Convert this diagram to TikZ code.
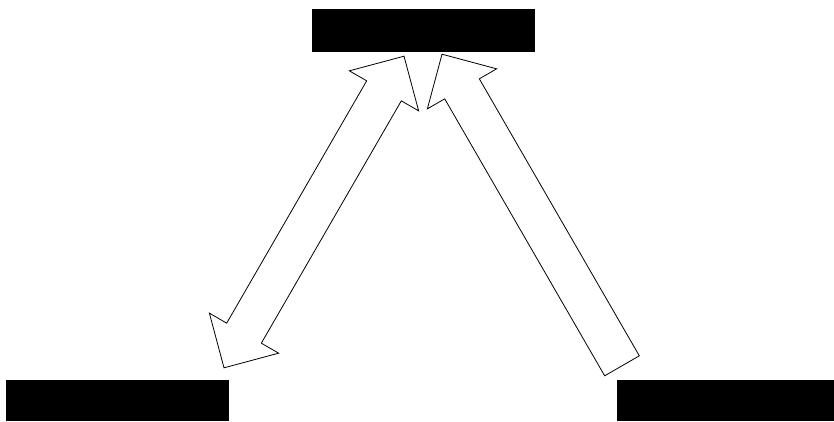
\documentclass[tikz,border=0pt]{standalone}
\usetikzlibrary{positioning,calc}

\tikzset{
  boite/.style={fill=black, draw=none, inner sep=0pt},
  fleche/.style={draw=black, fill=white, line width=0.8pt, line join=miter}
}

% fleche simple : queue (#1), pointe (#2)
\newcommand{\flechesimple}[2]{%
  \coordinate (hb) at ($(#2)!\tete!(#1)$);
  \draw[fleche] ($(#1)!\tige!90:(#2)$) -- ($(hb)!\tige!90:(#2)$)
    -- ($(hb)!\aile!90:(#2)$) -- (#2) -- ($(hb)!\aile!-90:(#2)$)
    -- ($(hb)!\tige!-90:(#2)$) -- ($(#1)!\tige!-90:(#2)$) -- cycle;
}
% fleche double : pointes (#1) et (#2)
\newcommand{\flechedouble}[2]{%
  \coordinate (ha) at ($(#1)!\tete!(#2)$);
  \coordinate (hb) at ($(#2)!\tete!(#1)$);
  \draw[fleche] (#1) -- ($(ha)!\aile!90:(#2)$) -- ($(ha)!\tige!90:(#2)$)
    -- ($(hb)!\tige!-90:(#1)$) -- ($(hb)!\aile!-90:(#1)$) -- (#2)
    -- ($(hb)!\aile!90:(#1)$) -- ($(hb)!\tige!90:(#1)$)
    -- ($(ha)!\tige!-90:(#2)$) -- ($(ha)!\aile!-90:(#2)$) -- cycle;
}

\begin{document}
\begin{tikzpicture}[x=1pt, y=-1pt]

% Paramètres
\def\tige{20pt} % demi-largeur de la tige
\def\aile{40pt} % demi-largeur de la tete
\def\tete{40pt} % longueur de la tete

\useasboundingbox (0,0) rectangle (834,421);

% Boites
\node[boite, minimum width=223pt, minimum height=43pt] (haut) at (423.5,30.5) {};
\node[boite, minimum width=223pt, minimum height=41pt] (gauche) at (117.5,400.5) {};
\node[boite, minimum width=217pt, minimum height=41pt] (droite) at (725.5,400.5) {};

% Extremites des fleches
\coordinate (h1) at ([xshift=-19.5pt, yshift=-4pt]haut.south);
\coordinate (g1) at ([xshift=106.5pt, yshift=12pt]gauche.north);
\coordinate (h2) at ([xshift=18.5pt, yshift=-2pt]haut.south);
\coordinate (d1) at ([xshift=-103.5pt, yshift=14pt]droite.north);

% Fleches
\flechedouble{h1}{g1}
\flechesimple{d1}{h2}

\end{tikzpicture}
\end{document}
